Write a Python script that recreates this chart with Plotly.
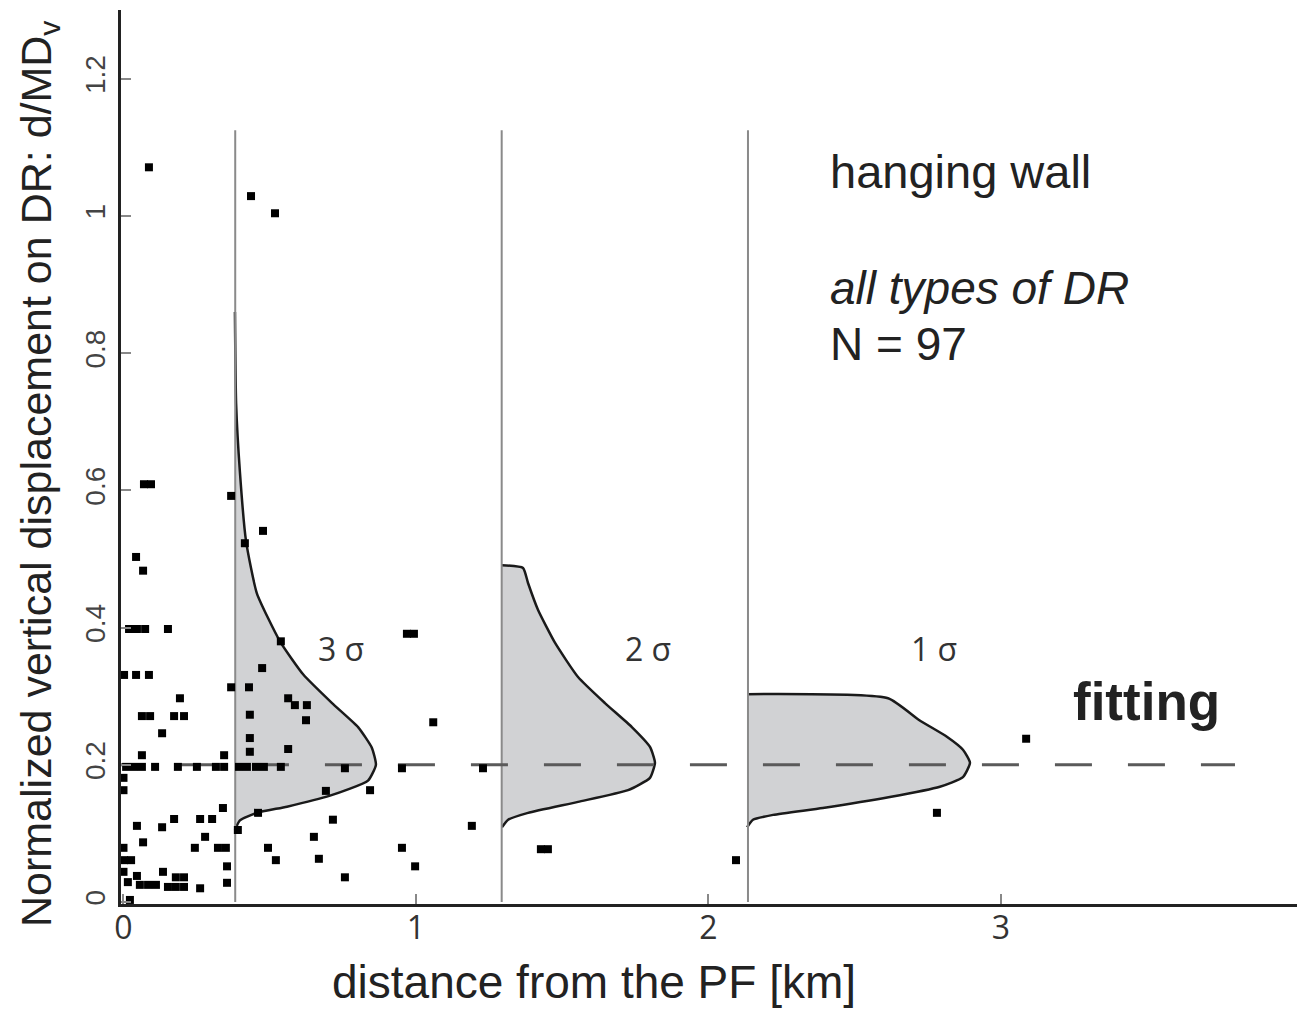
import plotly.graph_objects as go

# ---------------- data ----------------
# scattered observations: distance from PF [km], normalized displacement d/MDv
pts_x = [0.087, 0.436, 0.518, 0.070, 0.094, 0.368, 0.477, 0.415, 0.043, 0.067,
         0.019, 0.046, 0.074, 0.152, 0.538, 0.969, 0.993,
         0.002, 0.043, 0.087, 0.474, 0.368, 0.429, 0.193, 0.563, 0.586, 0.627,
         0.624, 1.059, 0.063, 0.091, 0.173, 0.207, 0.432, 0.132, 0.432, 0.432,
         0.063, 0.344, 0.563,
         0.009, 0.036, 0.063, 0.108, 0.186, 0.251, 0.316, 0.344, 0.395, 0.422,
         0.453, 0.480, 0.538, 0.757, 0.952, 1.229,
         0.843, 0.692, 0.000, 0.000, 0.460, 0.716, 0.391, 0.651, 0.494, 0.521,
         0.668, 0.757, 0.952, 0.997, 1.191, 0.340, 0.323, 0.350, 0.354, 0.354,
         0.046, 0.132, 0.173, 0.262, 0.303, 0.067, 0.279, 0.244, 0.000, 0.002,
         0.026, 0.000, 0.046, 0.135, 0.179, 0.207, 0.015, 0.056, 0.084, 0.111,
         0.152, 0.179, 0.207, 0.262, 0.022, 1.427, 1.451, 2.094, 2.781, 3.086]
pts_v = [1.071, 1.029, 1.004, 0.609, 0.609, 0.592, 0.541, 0.523, 0.503, 0.483,
         0.398, 0.398, 0.398, 0.398, 0.380, 0.391, 0.391,
         0.331, 0.331, 0.331, 0.341, 0.313, 0.313, 0.297, 0.297, 0.287, 0.287,
         0.265, 0.262, 0.271, 0.271, 0.271, 0.271, 0.273, 0.246, 0.239, 0.219,
         0.214, 0.214, 0.223,
         0.197, 0.197, 0.197, 0.197, 0.197, 0.197, 0.197, 0.197, 0.197, 0.197,
         0.197, 0.197, 0.197, 0.195, 0.195, 0.195,
         0.163, 0.162, 0.181, 0.163, 0.130, 0.120, 0.105, 0.095, 0.079, 0.061,
         0.063, 0.036, 0.079, 0.052, 0.111, 0.137, 0.079, 0.079, 0.052, 0.028,
         0.111, 0.109, 0.121, 0.121, 0.121, 0.087, 0.095, 0.079, 0.079, 0.061,
         0.061, 0.044, 0.038, 0.044, 0.036, 0.036, 0.029, 0.025, 0.025, 0.025,
         0.022, 0.022, 0.022, 0.020, 0.003, 0.077, 0.077, 0.061, 0.130, 0.238]

# fitted distributions (outline)
c3_x = [0.381, 0.385, 0.398, 0.419, 0.456, 0.535, 0.614, 0.713, 0.802, 0.849,
        0.863, 0.836, 0.706, 0.559, 0.456, 0.398, 0.381]
c3_v = [0.860, 0.727, 0.627, 0.526, 0.450, 0.380, 0.332, 0.290, 0.255, 0.225,
        0.200, 0.177, 0.155, 0.139, 0.130, 0.119, 0.105]
c2_x = [1.294, 1.366, 1.383, 1.417, 1.475, 1.554, 1.646, 1.738, 1.800, 1.817,
        1.800, 1.725, 1.554, 1.383, 1.315, 1.294]
c2_v = [0.491, 0.487, 0.465, 0.426, 0.378, 0.328, 0.290, 0.255, 0.226, 0.203,
        0.181, 0.163, 0.146, 0.130, 0.120, 0.109]
c1_x = [2.132, 2.614, 2.721, 2.815, 2.870, 2.894, 2.870, 2.791, 2.620, 2.391,
        2.221, 2.152, 2.132]
c1_v = [0.303, 0.297, 0.265, 0.241, 0.222, 0.203, 0.182, 0.168, 0.153, 0.137,
        0.127, 0.120, 0.109]

base_x = [0.382, 1.293, 2.135]      # vertical reference lines
base_top = 1.125
mean_x = [-0.06, 3.80]              # dashed mean line
mean_v = 0.2

sigma_labels = ["3 σ", "2 σ", "1 σ"]
y_ticks = [0, 0.2, 0.4, 0.6, 0.8, 1.0, 1.2]
y_ticktext = ["0", "0.2", "0.4", "0.6", "0.8", "1", "1.2"]
x_ticks = [0, 1, 2, 3]
x_ticktext = ["0", "1", "2", "3"]

# ---------------- figure ----------------
W, H = 1311, 1009
ML, MR, MT, MB = 121, 14, 10, 105


def pxx(px):
    return (px - ML) / (W - ML - MR)


def pxy(py):
    return (H - MB - py) / (H - MT - MB)


fig = go.Figure()

for cx, cv in [(c3_x, c3_v), (c2_x, c2_v), (c1_x, c1_v)]:
    fig.add_trace(go.Scatter(x=cx, y=cv, mode="lines", fill="toself",
                             fillcolor="#d1d2d4",
                             line=dict(color="#1a1a1a", width=2.5,
                                       shape="spline", smoothing=0.5),
                             hoverinfo="skip", showlegend=False))

for bx in base_x:
    fig.add_trace(go.Scatter(x=[bx, bx], y=[0, base_top], mode="lines",
                             line=dict(color="#8a8a8a", width=2),
                             hoverinfo="skip", showlegend=False))

fig.add_trace(go.Scatter(x=mean_x, y=[mean_v, mean_v], mode="lines",
                         line=dict(color="#5a5a5a", width=3, dash="37px,36px"),
                         hoverinfo="skip", showlegend=False))

fig.add_trace(go.Scatter(x=pts_x, y=pts_v, mode="markers",
                         marker=dict(symbol="square", size=8, color="#000000",
                                     line=dict(width=0)),
                         hoverinfo="skip", showlegend=False))

ann = []
# sigma labels
for lab, cx in zip(sigma_labels, [341, 648, 934]):
    ann.append(dict(x=pxx(cx), y=pxy(648), xref="paper", yref="paper",
                    text=lab, showarrow=False, xanchor="center", yanchor="middle",
                    font=dict(family="Open Sans", size=32, color="#333333")))

ann.append(dict(x=pxx(828), y=pxy(171), xref="paper", yref="paper",
                text="hanging wall", showarrow=False, xanchor="left", yanchor="middle",
                font=dict(family="Liberation Sans", size=47, color="#222222")))
ann.append(dict(x=pxx(828), y=pxy(288), xref="paper", yref="paper",
                text="<i>all types of DR</i>", showarrow=False, xanchor="left",
                yanchor="middle",
                font=dict(family="Liberation Sans", size=46, color="#222222")))
ann.append(dict(x=pxx(828), y=pxy(344), xref="paper", yref="paper",
                text="N = 97", showarrow=False, xanchor="left", yanchor="middle",
                font=dict(family="Liberation Sans", size=46, color="#222222")))
ann.append(dict(x=pxx(1071), y=pxy(701), xref="paper", yref="paper",
                text="<b>fitting</b>", showarrow=False, xanchor="left", yanchor="middle",
                font=dict(family="Liberation Sans", size=53, color="#222222")))
# axis titles
ann.append(dict(x=pxx(594), y=pxy(982), xref="paper", yref="paper",
                text="distance from the PF [km]", showarrow=False,
                xanchor="center", yanchor="middle",
                font=dict(family="Liberation Sans", size=46, color="#222222")))
ann.append(dict(x=pxx(39), y=pxy(474), xref="paper", yref="paper",
                text="Normalized vertical displacement on DR: d/MD<sub>v</sub>",
                textangle=-90, showarrow=False, xanchor="center", yanchor="middle",
                font=dict(family="Liberation Sans", size=43, color="#222222")))

fig.update_layout(
    width=W, height=H,
    margin=dict(l=ML, r=MR, t=MT, b=MB, pad=0),
    paper_bgcolor="white", plot_bgcolor="white",
    showlegend=False,
    annotations=ann,
    xaxis=dict(range=[-0.0085, 4.012], showgrid=False, zeroline=False,
               showline=True, linecolor="#222222", linewidth=3,
               ticks="inside", ticklen=10, tickwidth=2, tickcolor="#888888",
               tickvals=x_ticks, ticktext=x_ticktext, ticklabelstandoff=-6,
               tickfont=dict(family="Open Sans", size=32, color="#333333")),
    yaxis=dict(range=[-0.0029, 1.3003], showgrid=False, zeroline=False,
               showline=True, linecolor="#222222", linewidth=3,
               ticks="inside", ticklen=10, tickwidth=2, tickcolor="#888888",
               tickvals=y_ticks, ticktext=y_ticktext, tickangle=-90,
               ticklabelstandoff=2,
               tickfont=dict(family="Liberation Sans", size=28, color="#444444")),
)

fig.write_html("out.html")
